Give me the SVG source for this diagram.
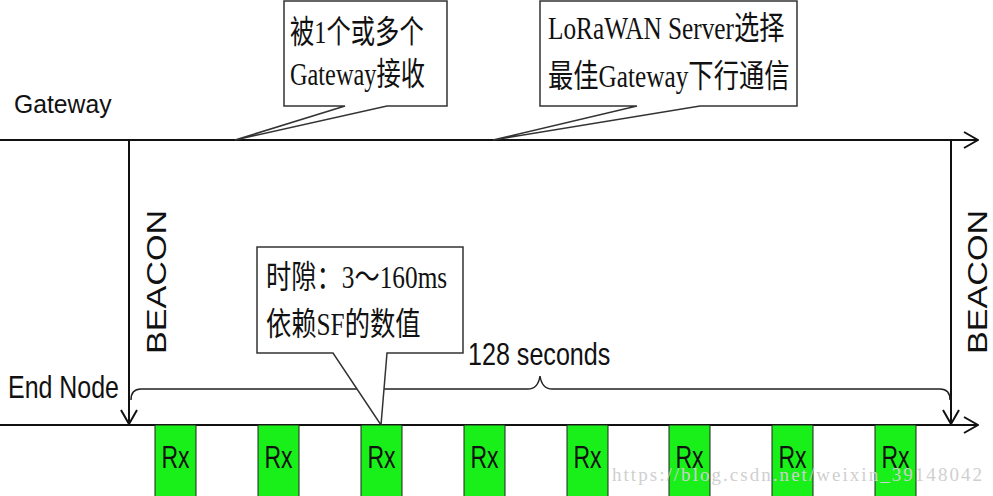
<svg xmlns="http://www.w3.org/2000/svg" width="993" height="496" viewBox="0 0 993 496">
<style>
.lbl{font-family:"Liberation Sans",Arial,sans-serif;fill:#111;}
.cn{font-family:"Liberation Serif","Noto Sans CJK SC",serif;font-size:32px;fill:#111;}
.line{stroke:#111;stroke-width:2;fill:none;}
.co{fill:#fff;stroke:#333;stroke-width:1.5;}
.rx rect{fill:#19f019;stroke:#222;stroke-width:1;}
.rx text{font-family:"Liberation Sans",Arial,sans-serif;font-size:32px;fill:#111;text-anchor:middle;}
</style>
<defs>
<marker id="open" viewBox="0 0 16 18" refX="15" refY="9" markerWidth="16" markerHeight="18" markerUnits="userSpaceOnUse" orient="auto">
<path d="M1,1 L15,9 L1,17" fill="none" stroke="#111" stroke-width="2"/>
</marker>
</defs>
<rect width="993" height="496" fill="#fff"/>
<g id="connectors">
<line class="line" x1="0" y1="140" x2="978" y2="140" marker-end="url(#open)"/>
<line class="line" x1="0" y1="425" x2="978" y2="425" marker-end="url(#open)"/>
<line class="line" x1="129" y1="140" x2="129" y2="424" marker-end="url(#open)"/>
<line class="line" x1="951" y1="140" x2="951" y2="424" marker-end="url(#open)"/>
<path d="M131,400 Q131,389 141,389 L528,389 Q538,389 540,376 Q542,389 552,389 L940,389 Q950,389 950,400" fill="none" stroke="#222" stroke-width="1.5"/>
</g>
<g id="gateway-label"><text class="lbl" font-size="25.5" transform="translate(14,113) scale(0.97,1)">Gateway</text></g>
<g id="endnode-label"><text class="lbl" font-size="32" transform="translate(8,398) scale(0.78,1)">End Node</text></g>
<g id="beacon-left"><text class="lbl" font-size="28" text-anchor="middle" transform="translate(166,282) rotate(-90) scale(1.22,1)">BEACON</text></g>
<g id="beacon-right"><text class="lbl" font-size="28" text-anchor="middle" transform="translate(987,282) rotate(-90) scale(1.22,1)">BEACON</text></g>
<g id="period-label"><text class="lbl" font-size="31" transform="translate(468,365) scale(0.81,1)">128 seconds</text></g>
<g id="callout-1">
<path class="co" d="M284,1 L447,1 L447,106 L387,106 L235,140 L345,106 L284,106 Z"/>
<text class="cn" transform="translate(290,43) scale(0.76,1)">被1个或多个</text>
<text class="cn" transform="translate(290,85) scale(0.76,1)">Gateway接收</text>
</g>
<g id="callout-2">
<path class="co" d="M540,1 L797,1 L797,106 L700,106 L493,140 L637,106 L540,106 Z"/>
<text class="cn" transform="translate(548,39) scale(0.79,1)">LoRaWAN Server选择</text>
<text class="cn" transform="translate(548,87) scale(0.79,1)">最佳Gateway下行通信</text>
</g>
<g id="callout-3">
<path class="co" d="M257,247 L463,247 L463,353 L387,353 L381,425 L333,353 L257,353 Z"/>
<text class="cn" transform="translate(266,288) scale(0.79,1)">时隙：3～160ms</text>
<text class="cn" transform="translate(266,335) scale(0.79,1)">依赖SF的数值</text>
</g>
<g id="rx-1" class="rx"><rect x="155" y="425" width="41" height="75"/><text transform="translate(175.5,468) scale(0.72,1)">Rx</text></g>
<g id="rx-2" class="rx"><rect x="258" y="425" width="41" height="75"/><text transform="translate(278.5,468) scale(0.72,1)">Rx</text></g>
<g id="rx-3" class="rx"><rect x="361" y="425" width="41" height="75"/><text transform="translate(381.5,468) scale(0.72,1)">Rx</text></g>
<g id="rx-4" class="rx"><rect x="464" y="425" width="41" height="75"/><text transform="translate(484.5,468) scale(0.72,1)">Rx</text></g>
<g id="rx-5" class="rx"><rect x="567" y="425" width="41" height="75"/><text transform="translate(587.5,468) scale(0.72,1)">Rx</text></g>
<g id="rx-6" class="rx"><rect x="669" y="425" width="41" height="75"/><text transform="translate(689.5,468) scale(0.72,1)">Rx</text></g>
<g id="rx-7" class="rx"><rect x="772" y="425" width="41" height="75"/><text transform="translate(792.5,468) scale(0.72,1)">Rx</text></g>
<g id="rx-8" class="rx"><rect x="875" y="425" width="41" height="75"/><text transform="translate(895.5,468) scale(0.72,1)">Rx</text></g>
<g id="watermark"><text x="612" y="481" font-family="Liberation Serif,serif" font-size="19" fill="#cfcfcf" textLength="370">https://blog.csdn.net/weixin_39148042</text></g>
</svg>
